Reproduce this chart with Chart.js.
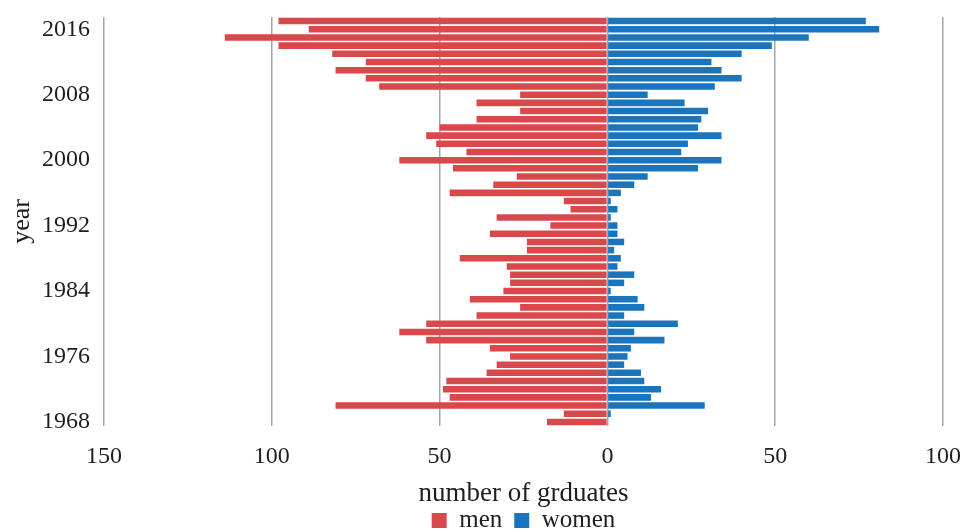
<!DOCTYPE html>
<html>
<head>
<meta charset="utf-8">
<script src="https://cdn.jsdelivr.net/npm/chart.js@4/dist/chart.umd.min.js"></script>
<style>
  html, body { margin: 0; padding: 0; background: #fff; }
  #wrap { width: 964px; height: 531px; }
</style>
</head>
<body>
<div id="wrap"><canvas id="pyramid"></canvas></div>
<script>
// years, top of the chart first
const years = [2017, 2016, 2015, 2014, 2013, 2012, 2011, 2010, 2009, 2008,
               2007, 2006, 2005, 2004, 2003, 2002, 2001, 2000, 1999, 1998,
               1997, 1996, 1995, 1994, 1993, 1992, 1991, 1990, 1989, 1988,
               1987, 1986, 1985, 1984, 1983, 1982, 1981, 1980, 1979, 1978,
               1977, 1976, 1975, 1974, 1973, 1972, 1971, 1970, 1969, 1968];
const men = [98, 89, 114, 98, 82, 72, 81, 72, 68, 26,
             39, 26, 39, 50, 54, 51, 42, 62, 46, 27,
             34, 47, 13, 11, 33, 17, 35, 24, 24, 44,
             30, 29, 29, 31, 41, 26, 39, 54, 62, 54,
             35, 29, 33, 36, 48, 49, 47, 81, 13, 18];
const women = [77, 81, 60, 49, 40, 31, 34, 40, 32, 12,
               23, 30, 28, 27, 34, 24, 22, 34, 27, 12,
               8, 4, 1, 3, 1, 3, 3, 5, 2, 4,
               3, 8, 5, 1, 9, 11, 5, 21, 8, 17,
               7, 6, 5, 10, 11, 16, 13, 29, 1, 0];
const yearTicks = [2016, 2008, 2000, 1992, 1984, 1976, 1968];
const xTicks = [-150, -100, -50, 0, 50, 100];

const serif = "'Liberation Serif', 'DejaVu Serif', serif";
const ink = '#1e1e1e';

const ctx = document.getElementById('pyramid').getContext('2d');
new Chart(ctx, {
    type: 'bar',
    data: {
        labels: years,
        datasets: [{
            label: 'men',
            data: men.map(v => -v),  // men go to the left
            backgroundColor: '#d9484a',
            borderWidth: 0
        }, {
            label: 'women',
            data: women,
            backgroundColor: '#1b75bc',
            borderWidth: 0
        }]
    },
    options: {
        indexAxis: 'y',
        responsive: true,
        maintainAspectRatio: false,
        animation: false,
        layout: { padding: { top: 17, right: 21, left: 4, bottom: -12 } },
        datasets: {
            bar: { barPercentage: 0.8, categoryPercentage: 1.0 }
        },
        plugins: {
            tooltip: { enabled: false },
            legend: {
                position: 'bottom',
                fullSize: false,
                labels: {
                    boxWidth: 15,
                    boxHeight: 15,
                    padding: 12,
                    color: ink,
                    font: { family: serif, size: 25 }
                }
            }
        },
        scales: {
            x: {
                stacked: true,
                min: -150,
                max: 100,
                afterBuildTicks: axis => { axis.ticks = xTicks.map(v => ({ value: v })); },
                afterFit: axis => {
                    axis.height = 70;
                    axis.paddingLeft = 0;
                    axis.paddingRight = 0;
                },
                ticks: {
                    color: ink,
                    padding: 16,
                    font: { family: serif, size: 24 },
                    callback: v => Math.abs(v)
                },
                grid: { color: '#a6a6a6', lineWidth: 1.5, drawTicks: false },
                border: { display: false },
                title: {
                    display: true,
                    text: 'number of grduates',
                    color: ink,
                    padding: { top: 0, bottom: -11 },
                    font: { family: serif, size: 27, lineHeight: 1 }
                }
            },
            y: {
                stacked: true,
                afterFit: axis => {
                    axis.width = 100;
                    axis.paddingTop = 0;
                    axis.paddingBottom = 0;
                },
                ticks: {
                    autoSkip: false,
                    color: ink,
                    padding: 14,
                    font: { family: serif, size: 24 },
                    callback: function(v, i) {
                        const yr = years[i];
                        return yearTicks.includes(yr) ? String(yr) : '';
                    }
                },
                grid: { display: false, drawTicks: false },
                border: { display: false },
                title: {
                    display: true,
                    text: 'year',
                    color: ink,
                    padding: { top: 3, bottom: 0 },
                    font: { family: serif, size: 26, lineHeight: 1.2 }
                }
            }
        }
    }
});
</script>
</body>
</html>
